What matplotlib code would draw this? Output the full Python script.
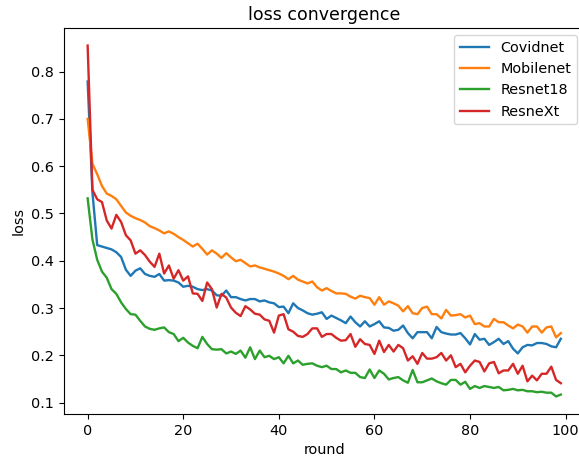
import numpy as np
import matplotlib
matplotlib.use("Agg")
import matplotlib.pyplot as plt

# loss per round
rounds = np.arange(100)

covidnet = [0.779, 0.545, 0.433, 0.430, 0.427, 0.424, 0.418, 0.408, 0.381, 0.368,
            0.379, 0.384, 0.372, 0.368, 0.366, 0.372, 0.358, 0.359, 0.358, 0.354,
            0.345, 0.347, 0.345, 0.340, 0.338, 0.340, 0.337, 0.327, 0.326, 0.337,
            0.323, 0.323, 0.319, 0.316, 0.319, 0.319, 0.314, 0.316, 0.312, 0.310,
            0.302, 0.303, 0.289, 0.310, 0.300, 0.295, 0.289, 0.286, 0.288, 0.291,
            0.277, 0.284, 0.279, 0.274, 0.268, 0.282, 0.270, 0.261, 0.272, 0.261,
            0.266, 0.272, 0.259, 0.258, 0.252, 0.254, 0.263, 0.247, 0.236, 0.249,
            0.249, 0.249, 0.236, 0.260, 0.249, 0.246, 0.244, 0.244, 0.247, 0.236,
            0.223, 0.245, 0.233, 0.235, 0.222, 0.228, 0.235, 0.224, 0.230, 0.214,
            0.204, 0.217, 0.222, 0.221, 0.226, 0.226, 0.224, 0.219, 0.217, 0.235]

mobilenet = [0.700, 0.605, 0.583, 0.558, 0.542, 0.537, 0.530, 0.516, 0.502, 0.495,
             0.490, 0.486, 0.481, 0.473, 0.469, 0.464, 0.458, 0.462, 0.457, 0.450,
             0.444, 0.437, 0.430, 0.436, 0.425, 0.413, 0.422, 0.415, 0.406, 0.416,
             0.407, 0.399, 0.402, 0.395, 0.388, 0.390, 0.386, 0.383, 0.380, 0.377,
             0.373, 0.368, 0.361, 0.368, 0.360, 0.356, 0.352, 0.356, 0.344, 0.337,
             0.342, 0.336, 0.331, 0.331, 0.330, 0.324, 0.320, 0.326, 0.323, 0.321,
             0.307, 0.323, 0.307, 0.314, 0.310, 0.305, 0.293, 0.304, 0.289, 0.287,
             0.300, 0.303, 0.287, 0.287, 0.278, 0.296, 0.284, 0.285, 0.287, 0.280,
             0.284, 0.266, 0.268, 0.261, 0.261, 0.277, 0.270, 0.270, 0.263, 0.257,
             0.265, 0.261, 0.248, 0.261, 0.261, 0.248, 0.259, 0.261, 0.238, 0.247]

resnet18 = [0.532, 0.445, 0.402, 0.377, 0.364, 0.340, 0.330, 0.312, 0.298, 0.287,
            0.286, 0.273, 0.261, 0.256, 0.254, 0.257, 0.259, 0.249, 0.245, 0.230,
            0.237, 0.227, 0.220, 0.215, 0.239, 0.224, 0.213, 0.212, 0.213, 0.204,
            0.208, 0.203, 0.210, 0.195, 0.217, 0.192, 0.210, 0.196, 0.199, 0.192,
            0.196, 0.183, 0.199, 0.183, 0.189, 0.180, 0.182, 0.183, 0.178, 0.175,
            0.178, 0.171, 0.171, 0.164, 0.168, 0.163, 0.163, 0.154, 0.152, 0.170,
            0.152, 0.168, 0.161, 0.149, 0.152, 0.154, 0.147, 0.142, 0.169, 0.143,
            0.143, 0.147, 0.151, 0.145, 0.141, 0.138, 0.148, 0.148, 0.138, 0.144,
            0.129, 0.135, 0.131, 0.135, 0.133, 0.131, 0.133, 0.126, 0.127, 0.129,
            0.126, 0.127, 0.124, 0.124, 0.122, 0.123, 0.121, 0.121, 0.113, 0.117]

resnext = [0.855, 0.550, 0.530, 0.524, 0.485, 0.468, 0.497, 0.482, 0.454, 0.443,
           0.415, 0.422, 0.412, 0.398, 0.387, 0.415, 0.373, 0.390, 0.362, 0.380,
           0.358, 0.367, 0.331, 0.330, 0.315, 0.354, 0.340, 0.301, 0.330, 0.322,
           0.301, 0.290, 0.283, 0.304, 0.297, 0.288, 0.286, 0.276, 0.273, 0.248,
           0.284, 0.287, 0.255, 0.250, 0.241, 0.239, 0.245, 0.257, 0.257, 0.239,
           0.245, 0.245, 0.237, 0.231, 0.232, 0.245, 0.218, 0.234, 0.224, 0.222,
           0.203, 0.231, 0.207, 0.222, 0.208, 0.222, 0.215, 0.189, 0.198, 0.182,
           0.205, 0.193, 0.193, 0.196, 0.205, 0.189, 0.200, 0.175, 0.182, 0.164,
           0.178, 0.189, 0.186, 0.166, 0.183, 0.186, 0.162, 0.168, 0.168, 0.182,
           0.161, 0.178, 0.145, 0.157, 0.147, 0.161, 0.161, 0.176, 0.148, 0.141]

labels = ["Covidnet", "Mobilenet", "Resnet18", "ResneXt"]

plt.rcParams['font.size'] = 10.4

fig = plt.figure(figsize=(5.79, 4.63), dpi=100)
# axes run past the right edge, the reference is cropped there
ax = fig.add_axes([0.1105, 0.1058, 0.899, 0.8337])

for series, name in zip([covidnet, mobilenet, resnet18, resnext], labels):
    ax.plot(rounds, series, label=name, linewidth=1.7)

ax.set_title("loss convergence")
ax.set_xlabel("round")
ax.set_ylabel("loss")
ax.legend(loc="upper right")

fig.savefig("out.png", dpi=100)
